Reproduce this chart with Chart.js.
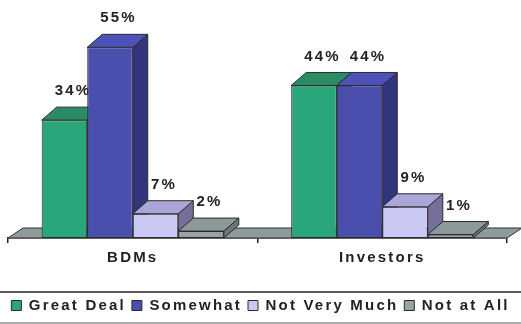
<!DOCTYPE html>
<html>
<head>
<meta charset="utf-8">
<script src="https://cdn.jsdelivr.net/npm/chart.js@4.4.1/dist/chart.umd.min.js"></script>
<style>
html, body { margin: 0; padding: 0; background: #fff; }
#wrap { width: 521px; height: 324px; position: relative; }
</style>
</head>
<body>
<div id="wrap"><canvas id="chart"></canvas></div>
<script>
const categories = ['BDMs', 'Investors'];
const seriesNames = ['Great Deal', 'Somewhat', 'Not Very Much', 'Not at All'];
const greatDeal = [34, 44];
const somewhat = [55, 44];
const notVeryMuch = [7, 9];
const notAtAll = [2, 1];

// front / top / side shades for the fake 3D look
const fronts = ['#2aa67b', '#4a4fae', '#cac9f3', '#97a3a5'];
const tops = ['#2a8c64', '#4d51ba', '#aaa6da', '#8c989a'];
const sides = ['#1f7656', '#33357c', '#776f9b', '#6b7678'];
const DX = 15, DY = -13;
const FAMILY = '"Liberation Sans", Arial, sans-serif';

const setSpacing = chart => { chart.ctx.letterSpacing = '2.2px'; };

const poly = (ctx, pts, fill) => {
    ctx.beginPath();
    ctx.moveTo(pts[0][0], pts[0][1]);
    for (let k = 1; k < pts.length; k++) ctx.lineTo(pts[k][0], pts[k][1]);
    ctx.closePath();
    ctx.fillStyle = fill;
    ctx.fill();
    ctx.stroke();
};

const seriesData = [greatDeal, somewhat, notVeryMuch, notAtAll];

const bars3d = {
    id: 'bars3d',
    beforeLayout: setSpacing,
    beforeDraw: setSpacing,
    beforeDatasetsDraw(chart) {
        // grey floor under the bars
        const { ctx, chartArea: a } = chart;
        ctx.save();
        ctx.strokeStyle = '#333';
        ctx.lineWidth = 1;
        poly(ctx, [[a.left, a.bottom], [a.right, a.bottom], [a.right + 15, a.bottom - 10], [a.left + 15, a.bottom - 10]], '#8f9a9c');
        ctx.restore();
    },
    // Chart.js paints the last dataset first; skip that and paint left to right below
    beforeDatasetDraw() {
        return false;
    },
    afterDatasetsDraw(chart) {
        const ctx = chart.ctx;
        chart.data.datasets.forEach((ds, i) => {
            const meta = chart.getDatasetMeta(i);
            meta.controller.draw();
            ctx.save();
            ctx.strokeStyle = '#2b2b2b';
            ctx.lineWidth = 1;
            meta.data.forEach((bar, j) => {
                const { x, y, base, width } = bar.getProps(['x', 'y', 'base', 'width'], true);
                const l = x - width / 2, r = x + width / 2;
                poly(ctx, [[r, y], [r + DX, y + DY], [r + DX, base + DY], [r, base]], sides[i]);
                poly(ctx, [[l, y], [l + DX, y + DY], [r + DX, y + DY], [r, y]], tops[i]);
                ctx.fillStyle = '#222';
                ctx.font = 'bold 15px ' + FAMILY;
                ctx.textAlign = 'center';
                ctx.textBaseline = 'middle';
                ctx.fillText(ds.data[j] + '%', x + DX / 2 + 1, y + DY - 16);
            });
            ctx.restore();
        });
    },
    afterDraw(chart) {
        // rules above and below the legend
        const { ctx, legend } = chart;
        ctx.save();
        ctx.strokeStyle = '#222';
        ctx.lineWidth = 1.5;
        ctx.beginPath();
        ctx.moveTo(0, legend.top);
        ctx.lineTo(chart.width, legend.top);
        ctx.stroke();
        ctx.strokeStyle = '#aaa';
        ctx.lineWidth = 2;
        ctx.beginPath();
        ctx.moveTo(0, legend.bottom);
        ctx.lineTo(chart.width, legend.bottom);
        ctx.stroke();
        ctx.restore();
    }
};

new Chart(document.getElementById('chart'), {
    type: 'bar',
    data: {
        labels: categories,
        datasets: seriesNames.map((name, i) => ({
            label: name,
            data: seriesData[i],
            backgroundColor: fronts[i],
            borderColor: '#2b2b2b',
            borderWidth: 1,
            borderSkipped: false,
            clip: false,
            categoryPercentage: 0.73,
            barPercentage: 1.0
        }))
    },
    options: {
        responsive: true,
        maintainAspectRatio: false,
        animation: false,
        layout: {
            padding: { top: 30, left: 0, right: 0, bottom: 1 }
        },
        plugins: {
            legend: {
                position: 'bottom',
                labels: {
                    boxWidth: 10,
                    boxHeight: 10,
                    padding: 6,
                    color: '#222',
                    font: { family: FAMILY, size: 15, weight: 'bold' }
                }
            },
            tooltip: { enabled: false }
        },
        scales: {
            x: {
                grid: {
                    display: true,
                    drawOnChartArea: false,
                    tickLength: 5,
                    color: '#222',
                    lineWidth: 1.5
                },
                border: { display: true, color: '#222', width: 1.5 },
                ticks: {
                    color: '#222',
                    padding: 6,
                    font: { family: FAMILY, size: 15, weight: 'bold' }
                },
                afterFit: scale => { scale.height = 54; }
            },
            y: {
                min: 0,
                max: 60,
                ticks: { display: false },
                grid: { display: false },
                border: { display: false },
                afterFit: scale => { scale.width = 8; }
            },
            y2: {
                position: 'right',
                ticks: { display: false },
                grid: { display: false },
                border: { display: false },
                afterFit: scale => { scale.width = 14; }
            }
        }
    },
    plugins: [bars3d]
});
</script>
</body>
</html>
